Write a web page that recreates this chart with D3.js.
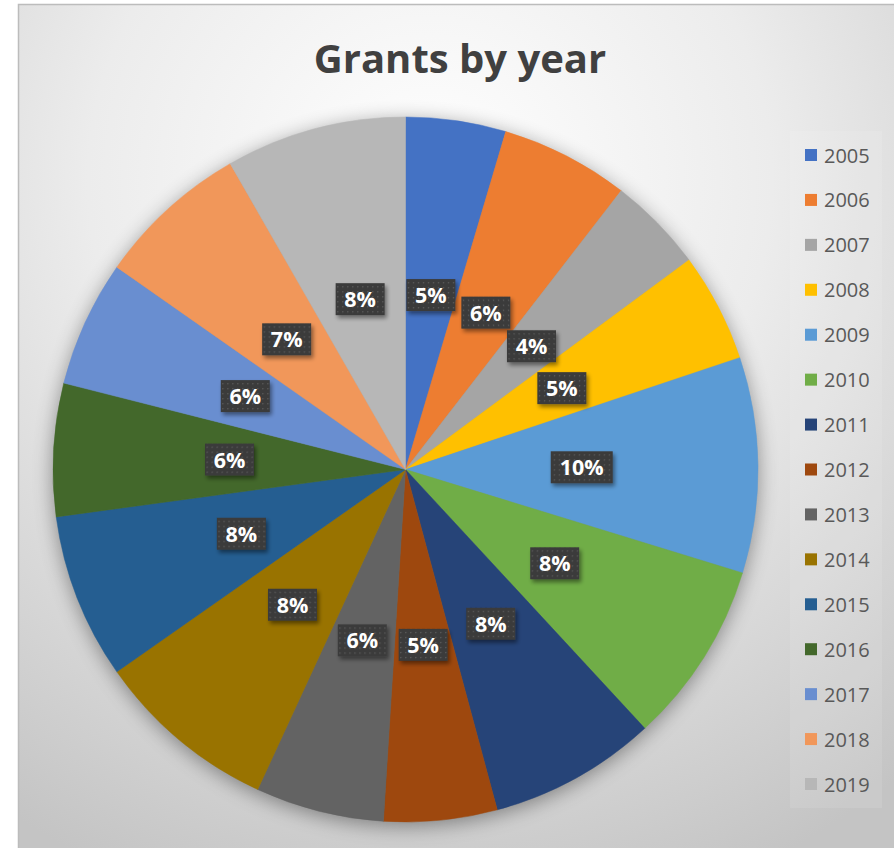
<!DOCTYPE html>
<html><head><meta charset="utf-8">
<script src="https://cdn.jsdelivr.net/npm/d3@7"></script>
<style>html,body{margin:0;padding:0;background:#fff;overflow:hidden}</style>
</head><body><svg id="chart" width="894" height="848"></svg>
<script>
const years = ["2005","2006","2007","2008","2009","2010","2011","2012","2013","2014","2015","2016","2017","2018","2019"];
const grants = [4.6,5.9,4.4,5.0,9.9,8.4,7.7,5.2,5.9,8.4,7.6,6.1,5.8,7.0,8.3];
const colors = ["#4472C4","#ED7D31","#A5A5A5","#FFC000","#5B9BD5","#70AD47","#264478","#9E480E","#636363","#997300","#255E91","#43682B","#698ED0","#F1975A","#B7B7B7"];
const title = "Grants by year";

const FONT = "'Open Sans', 'Noto Sans', sans-serif";
const svg = d3.select("#chart");
const defs = svg.append("defs");
const bg = defs.append("radialGradient").attr("id","bg").attr("gradientUnits","userSpaceOnUse")
  .attr("cx",430).attr("cy",180).attr("r",760);
bg.append("stop").attr("offset","0%").attr("stop-color","#ffffff");
bg.append("stop").attr("offset","45%").attr("stop-color","#ececec");
bg.append("stop").attr("offset","100%").attr("stop-color","#c4c4c4");

const sh = defs.append("filter").attr("id","shadow").attr("x","-20%").attr("y","-20%").attr("width","140%").attr("height","140%");
sh.append("feGaussianBlur").attr("in","SourceAlpha").attr("stdDeviation",10);
sh.append("feOffset").attr("dx",0).attr("dy",4).attr("result","b");
sh.append("feComponentTransfer").append("feFuncA").attr("type","linear").attr("slope",0.4);

const lsh = defs.append("filter").attr("id","lshadow").attr("x","-30%").attr("y","-30%").attr("width","160%").attr("height","160%");
lsh.append("feGaussianBlur").attr("in","SourceAlpha").attr("stdDeviation",2);
lsh.append("feOffset").attr("dx",2).attr("dy",3).attr("result","o");
lsh.append("feComponentTransfer").attr("result","s").append("feFuncA").attr("type","linear").attr("slope",0.45);
const m = lsh.append("feMerge");
m.append("feMergeNode").attr("in","s");
m.append("feMergeNode").attr("in","SourceGraphic");

const pat = defs.append("pattern").attr("id","dots").attr("patternUnits","userSpaceOnUse").attr("width",5).attr("height",5);
pat.append("rect").attr("width",5).attr("height",5).attr("fill","#3a3a3a");
pat.append("rect").attr("x",2).attr("y",2).attr("width",1.3).attr("height",1.3).attr("fill","#5e5e5e");

// chart area
svg.append("rect").attr("x",18.5).attr("y",4.5).attr("width",880).attr("height",860)
  .attr("fill","url(#bg)").attr("stroke","#bcbcbc").attr("stroke-width",1.5);

svg.append("text").attr("x",460).attr("y",73).attr("text-anchor","middle")
  .attr("font-family",FONT).attr("font-weight","bold")
  .attr("font-size",40).attr("fill","#404040").text(title);

const cx = 405.5, cy = 469.5, R = 352.5;
const total = d3.sum(grants);
const pie = d3.pie().sort(null).value(d => d.v);
const data = years.map((y,i)=>({y, v:grants[i], c:colors[i]}));
const arcs = pie(data);
const arc = d3.arc().innerRadius(0).outerRadius(R);
const g = svg.append("g").attr("transform",`translate(${cx},${cy})`);

g.append("circle").attr("r",R).attr("fill","#000").attr("filter","url(#shadow)");
g.selectAll("path.s").data(arcs).join("path").attr("class","s")
  .attr("d",arc).attr("fill",d=>d.data.c).attr("stroke",d=>d.data.c).attr("stroke-width",0.5);

const labArc = d3.arc().innerRadius(R/2).outerRadius(R/2);
const fmt = d3.format(".0%");
const lab = g.selectAll("g.l").data(arcs).join("g").attr("class","l")
  .attr("transform",d=>{const [x,y]=labArc.centroid(d);return `translate(${x},${y})`;});
lab.each(function(d){
  const t = fmt(d.data.v/total);
  const w = t.length>2 ? 62 : 49;
  const s = d3.select(this);
  s.append("rect").attr("x",-w/2).attr("y",-16).attr("width",w).attr("height",32)
    .attr("fill","url(#dots)").attr("filter","url(#lshadow)");
  s.append("text").attr("x",0).attr("y",8).attr("text-anchor","middle")
    .attr("font-family",FONT).attr("font-weight","bold")
    .attr("font-size",21.5).attr("fill","#ffffff").text(t);
});

// legend
svg.append("rect").attr("x",790).attr("y",131).attr("width",92).attr("height",677)
  .attr("fill","#ffffff").attr("opacity",0.1);
const ly = d3.scalePoint().domain(years).range([155,784]);
const lg = svg.selectAll("g.lg").data(data).join("g").attr("class","lg")
  .attr("transform",d=>`translate(805,${ly(d.y)})`);
lg.append("rect").attr("x",0).attr("y",-6).attr("width",12).attr("height",12).attr("fill",d=>d.c);
lg.append("text").attr("x",19).attr("y",7.5).attr("font-family",FONT)
  .attr("font-size",20).attr("fill","#595959").text(d=>d.y);
</script></body></html>
